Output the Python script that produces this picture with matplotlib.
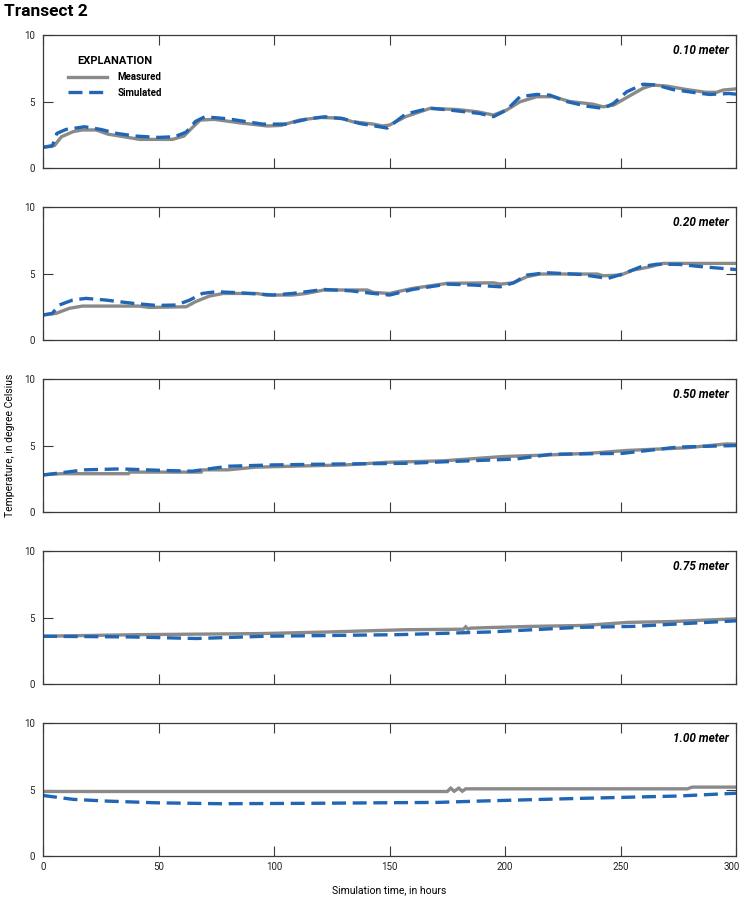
import matplotlib
matplotlib.use("Agg")
import matplotlib.pyplot as plt
import matplotlib.transforms as mtransforms
import numpy as np

plt.rcParams['font.family'] = ['Liberation Sans Narrow', 'Roboto', 'DejaVu Sans']

# depth labels
depths = ["0.10 meter", "0.20 meter", "0.50 meter", "0.75 meter", "1.00 meter"]

# 0.10 m
t1_meas = [0, 5, 8, 13, 17, 23, 28, 35, 42, 56, 61, 65, 68, 74, 85, 97, 103, 111, 120, 129, 134,
           143, 147, 150, 157, 167.5, 179, 188, 195, 200.7, 206.5, 213.7, 220.8, 228, 238, 242.5,
           247, 252.7, 259.8, 264, 270, 278.6, 287, 291.6, 294.4, 300]
T1_meas = [1.58, 1.7, 2.35, 2.73, 2.86, 2.86, 2.55, 2.35, 2.15, 2.15, 2.4, 3.1, 3.6, 3.66, 3.4, 3.16,
           3.2, 3.6, 3.8, 3.75, 3.48, 3.3, 3.16, 3.23, 3.86, 4.48, 4.4, 4.23, 3.98, 4.36, 4.98, 5.36,
           5.36, 5.0, 4.8, 4.6, 4.73, 5.3, 6.0, 6.24, 6.16, 5.9, 5.69, 5.69, 5.86, 5.95]
t1_sim = [0, 4, 6, 10, 18, 25, 32, 40, 50, 57, 62, 66, 70, 80, 95, 105, 115, 122, 130, 137, 144,
          149, 157, 167.5, 177.5, 189, 195, 200.7, 206.5, 213.7, 219.4, 226.6, 235, 242.5, 247,
          252.7, 259.8, 265.5, 272.6, 281.3, 288.5, 297, 300]
T1_sim = [1.55, 1.65, 2.6, 2.9, 3.1, 2.9, 2.6, 2.4, 2.3, 2.35, 2.7, 3.5, 3.85, 3.7, 3.3, 3.3, 3.7,
          3.85, 3.7, 3.35, 3.15, 3.0, 4.06, 4.5, 4.33, 4.1, 3.86, 4.36, 5.36, 5.53, 5.48, 5.0,
          4.66, 4.48, 4.86, 5.73, 6.3, 6.24, 5.9, 5.69, 5.53, 5.6, 5.55]

# 0.20 m
t2_meas = [0, 5.6, 11.4, 17, 41.6, 46, 62, 66, 72, 78, 92.5, 96.8, 108, 114, 121.6, 140.4, 143,
           150, 160, 175, 195, 198, 203.7, 209.5, 215, 240, 242.5, 250, 255.5, 262.7, 268.5, 300]
T2_meas = [1.88, 2.0, 2.38, 2.55, 2.55, 2.45, 2.5, 2.88, 3.3, 3.5, 3.5, 3.38, 3.38, 3.5, 3.76,
           3.76, 3.58, 3.5, 3.88, 4.26, 4.3, 4.2, 4.3, 4.76, 4.96, 4.96, 4.83, 4.88, 5.26, 5.5,
           5.76, 5.76]
t2_sim = [0, 4, 7, 12.8, 18.6, 27.3, 38.8, 49, 57.7, 63.5, 69, 75, 85, 99.6, 108, 121.6, 133,
          143, 150, 160, 175, 186.5, 198, 203.7, 209.5, 218, 232.7, 244.6, 251.5, 258.7, 265.7,
          275.7, 285.8, 300]
T2_sim = [1.88, 2.0, 2.63, 3.0, 3.13, 3.0, 2.76, 2.6, 2.63, 3.0, 3.5, 3.63, 3.55, 3.38, 3.5, 3.8,
          3.7, 3.5, 3.38, 3.8, 4.2, 4.13, 4.0, 4.3, 4.88, 5.06, 4.93, 4.63, 5.0, 5.5, 5.7, 5.68,
          5.5, 5.3]

# 0.50 m
t3_meas = [0, 8, 37, 37.5, 68.5, 69, 80, 92, 107, 131, 148, 173.5, 199, 216, 236, 253, 278.6,
           296, 300]
T3_meas = [2.8, 2.88, 2.88, 3.0, 3.0, 3.17, 3.17, 3.37, 3.44, 3.54, 3.73, 3.85, 4.17, 4.27, 4.41,
           4.63, 4.83, 5.12, 5.1]
t3_sim = [0, 18, 33.5, 53, 64.6, 80, 99.6, 123, 158, 177.4, 204.6, 220, 251, 274.7, 300]
T3_sim = [2.78, 3.17, 3.24, 3.12, 3.07, 3.44, 3.54, 3.6, 3.66, 3.8, 3.98, 4.34, 4.41, 4.88, 5.0]

# 0.75 m
t4_meas = [0, 41, 94, 123, 157, 182, 183, 184, 185, 210.5, 234, 253, 273, 290, 300]
T4_meas = [3.59, 3.71, 3.79, 3.91, 4.08, 4.12, 4.3, 4.12, 4.2, 4.33, 4.4, 4.63, 4.7, 4.83, 4.9]
t4_sim = [0, 37.4, 66.5, 96, 154, 193, 232, 255, 300]
T4_sim = [3.59, 3.54, 3.42, 3.59, 3.71, 3.91, 4.26, 4.33, 4.75]

# 1.00 m
t5_meas = [0, 175, 176.5, 178, 180, 181.5, 183, 279, 281, 300]
T5_meas = [4.85, 4.85, 5.1, 4.87, 5.1, 4.87, 5.05, 5.05, 5.18, 5.18]
t5_sim = [0, 13, 27.5, 49, 77, 114, 146, 171, 189, 232, 275, 300]
T5_sim = [4.55, 4.26, 4.13, 4.0, 3.93, 3.96, 4.0, 4.03, 4.13, 4.33, 4.51, 4.72]

meas = [(t1_meas, T1_meas), (t2_meas, T2_meas), (t3_meas, T3_meas), (t4_meas, T4_meas), (t5_meas, T5_meas)]
sims = [(t1_sim, T1_sim), (t2_sim, T2_sim), (t3_sim, T3_sim), (t4_sim, T4_sim), (t5_sim, T5_sim)]

gray = '#8a8a8a'
blue = '#2066b4'
spine = '#3a3a3a'

fig = plt.figure(figsize=(7.41, 9), dpi=100)
W, H = 741, 900
axes = []
for i in range(5):
    top = 35 + 172 * i
    ax = fig.add_axes([43 / W, 1 - (top + 133) / H, 693 / W, 133 / H])
    axes.append(ax)
    tm, Tm = meas[i]
    ts, Ts = sims[i]
    ax.plot(tm, Tm, color=gray, lw=2.4, solid_joinstyle='miter', label='Measured')
    ax.plot(ts, Ts, color=blue, lw=2.4, dashes=(4.2, 2.0), label='Simulated')
    ax.set_xlim(0, 300)
    ax.set_ylim(0, 10)
    ax.set_xticks([0, 50, 100, 150, 200, 250, 300])
    ax.set_yticks([0, 5, 10])
    ax.tick_params(direction='in', length=7, width=0.8, color=spine, top=True, right=True,
                   labelsize=7, labelcolor='#222222', pad=4)
    ax.tick_params(axis='y', pad=6)
    for s in ax.spines.values():
        s.set_color(spine)
        s.set_linewidth(0.9)
    if i < 4:
        ax.tick_params(labelbottom=False)
    ax.text(0.99, 0.88, depths[i], transform=ax.transAxes, ha='right', va='center',
            fontsize=8.5, fontweight='bold', fontstyle='italic')

# keep the last x tick label inside the figure
last = axes[-1].get_xticklabels()[-1]
last.set_transform(last.get_transform() + mtransforms.ScaledTranslation(-4 / 100, 0, fig.dpi_scale_trans))

leg = axes[0].legend(title='EXPLANATION', loc='upper left', bbox_to_anchor=(0.03, 0.87),
                     frameon=False, fontsize=7, handlelength=4.0, handletextpad=1.1,
                     labelspacing=0.6, borderaxespad=0)
leg.get_title().set_fontweight('bold')
leg.get_title().set_fontsize(8)
for txt in leg.get_texts():
    txt.set_fontweight('bold')

fig.text(4 / W, 1 - 12 / H, 'Transect 2', fontsize=12.5, fontweight='bold', va='center', ha='left')
fig.text(10 / W, 1 - 445 / H, 'Temperature, in degree Celsius', rotation=90, fontsize=7.5,
         va='center', ha='center')
fig.text(389 / W, 1 - 890 / H, 'Simulation time, in hours', fontsize=7.5, va='center', ha='center')

fig.savefig('out.png', dpi=100)
